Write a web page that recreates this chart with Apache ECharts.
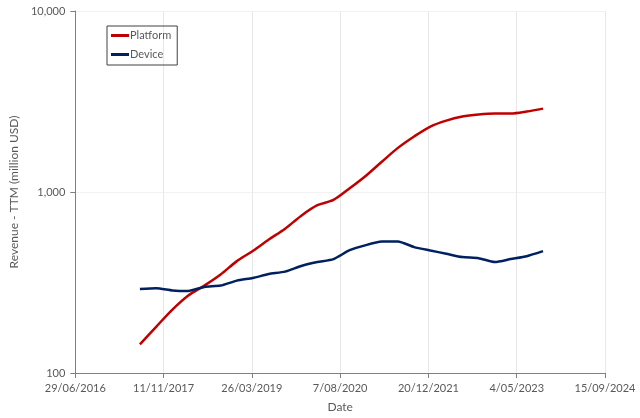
<!DOCTYPE html>
<html>
<head>
<meta charset="utf-8">
<script src="https://cdn.jsdelivr.net/npm/echarts@6/dist/echarts.min.js"></script>
<style>
  html, body { margin: 0; padding: 0; background: #fff; }
  #chart { width: 640px; height: 418px; }
</style>
</head>
<body>
<div id="chart"></div>
<script>
// quarter-end dates, trailing twelve months revenue (million USD)
const dates = [
  '2017-06-30', '2017-09-30', '2017-12-31', '2018-03-31', '2018-06-30', '2018-09-30',
  '2018-12-31', '2019-03-31', '2019-06-30', '2019-09-30', '2019-12-31', '2020-03-31',
  '2020-06-30', '2020-09-30', '2020-12-31', '2021-03-31', '2021-06-30', '2021-09-30',
  '2021-12-31', '2022-03-31', '2022-06-30', '2022-09-30', '2022-12-31', '2023-03-31',
  '2023-06-30', '2023-09-30'
];
const platform = [
  144, 180, 224, 268, 304, 350, 415, 472, 546, 627, 740, 845,
  904, 1048, 1230, 1469, 1753, 2028, 2300, 2481, 2610, 2678, 2712, 2712,
  2781, 2889
];
const device = [
  291, 294, 286, 284, 299, 304, 324, 335, 352, 363, 390, 410,
  426, 477, 509, 532, 533, 496, 475, 456, 437, 431, 410, 426,
  442, 471
];

// x axis runs in days from 29/06/2016, ticks every 500 days
const origin = Date.UTC(2016, 5, 29);
const dayMs = 86400000;
const xMin = 0;
const xMax = 3000;
const xStep = 500;

function toDays(s) {
  const [y, m, d] = s.split('-').map(Number);
  return (Date.UTC(y, m - 1, d) - origin) / dayMs;
}

function fmtDate(v) {
  const dt = new Date(origin + v * dayMs);
  const mm = String(dt.getUTCMonth() + 1).padStart(2, '0');
  return dt.getUTCDate() + '/' + mm + '/' + dt.getUTCFullYear();
}

const textColor = '#595959';
const font = 'Lato';

const chart = echarts.init(document.getElementById('chart'));

chart.setOption({
  backgroundColor: '#fff',
  animation: false,
  textStyle: { fontFamily: font },
  grid: {
    left: 73,
    right: 35,
    top: 11,
    bottom: 44,
  },
  legend: {
    orient: 'vertical',
    left: 107,
    top: 26,
    padding: [4, 6, 5, 4],
    itemGap: 8,
    itemWidth: 18,
    itemHeight: 3,
    borderColor: '#404040',
    borderWidth: 1,
    icon: 'rect',
    textStyle: { color: textColor, fontSize: 11, fontFamily: font, padding: [0, 0, 0, -4] },
    data: ['Platform', 'Device'],
  },
  xAxis: {
    type: 'value',
    min: xMin,
    max: xMax,
    interval: xStep,
    name: 'Date',
    nameLocation: 'middle',
    nameGap: 28,
    nameTextStyle: { color: textColor, fontSize: 12, fontFamily: font },
    axisLine: { show: true, lineStyle: { color: '#7f7f7f', width: 1 } },
    axisTick: { show: true, length: 5, lineStyle: { color: '#7f7f7f' } },
    axisLabel: {
      color: textColor,
      fontSize: 11,
      margin: 10,
      formatter: fmtDate,
    },
    splitLine: { show: true, lineStyle: { color: '#e8e8e8', width: 1 } },
  },
  yAxis: {
    type: 'log',
    logBase: 10,
    min: 100,
    max: 10000,
    name: 'Revenue - TTM (million USD)',
    nameLocation: 'middle',
    nameGap: 53,
    nameTextStyle: { color: textColor, fontSize: 12, fontFamily: font },
    axisLine: { show: true, lineStyle: { color: '#7f7f7f', width: 1 } },
    axisTick: { show: true, length: 5, inside: false, lineStyle: { color: '#7f7f7f' } },
    axisLabel: {
      color: textColor,
      fontSize: 11,
      margin: 10,
      formatter: v => Math.round(v).toLocaleString('en-US'),
    },
    splitLine: { show: true, lineStyle: { color: '#f2f2f2', width: 1 } },
    minorTick: { show: false },
  },
  series: [
    {
      name: 'Platform',
      type: 'line',
      data: dates.map((d, i) => [toDays(d), platform[i]]),
      smooth: 0.3,
      showSymbol: false,
      lineStyle: { color: '#c00000', width: 2.5 },
      itemStyle: { color: '#c00000' },
    },
    {
      name: 'Device',
      type: 'line',
      data: dates.map((d, i) => [toDays(d), device[i]]),
      smooth: 0.2,
      showSymbol: false,
      lineStyle: { color: '#002060', width: 2.5 },
      itemStyle: { color: '#002060' },
    },
  ],
});
</script>
</body>
</html>
